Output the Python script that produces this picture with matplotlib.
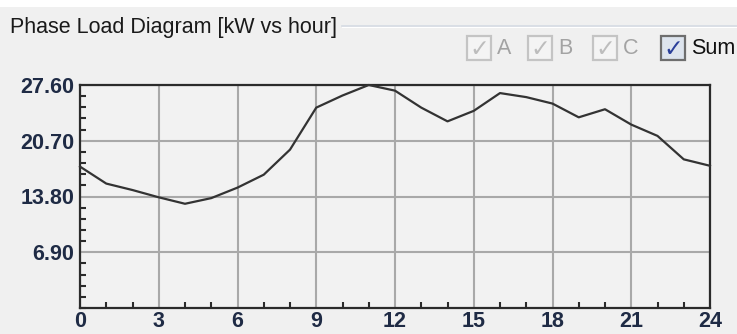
import matplotlib
matplotlib.use("Agg")
import matplotlib.pyplot as plt
from matplotlib.patches import Rectangle
from matplotlib.lines import Line2D
from matplotlib.ticker import MultipleLocator, FixedLocator

hours = list(range(25))
load_kw = [17.5, 15.4, 14.6, 13.7, 12.9, 13.6, 14.9, 16.5, 19.6, 24.8, 26.3, 27.6,
           26.9, 24.8, 23.1, 24.4, 26.6, 26.1, 25.3, 23.6, 24.6, 22.7, 21.3, 18.4, 17.6]
y_ticks = [6.90, 13.80, 20.70, 27.60]
y_tick_labels = ["6.90", "13.80", "20.70", "27.60"]
x_ticks = [0, 3, 6, 9, 12, 15, 18, 21, 24]
title = "Phase Load Diagram [kW vs hour]"
checkbox_labels = ["A", "B", "C", "Sum"]
checkbox_enabled = [False, False, False, True]

W, H = 737, 334
BG = "#f0f0f0"
FONT = ["Liberation Sans", "DejaVu Sans"]

fig = plt.figure(figsize=(W / 100, H / 100), dpi=100)
fig.patch.set_facecolor(BG)

def fx(x):
    return x / W

def fy(y):
    return 1 - y / H

# white strip at top
fig.add_artist(Rectangle((0, fy(7)), 1, 7 / H, transform=fig.transFigure,
                         facecolor="white", edgecolor="none", zorder=0))
# group box line
fig.add_artist(Line2D([fx(342), 1], [fy(26), fy(26)], transform=fig.transFigure,
                      color="#d5dbe3", lw=1.2))
fig.add_artist(Line2D([fx(342), 1], [fy(27.2), fy(27.2)], transform=fig.transFigure,
                      color="#ffffff", lw=0.8))
fig.text(fx(10), fy(27), title, family=FONT, fontsize=15.5, color="#1a1a1a",
         ha="left", va="center")

# checkboxes
box_x = [467, 528, 593, 661]
for bx, lab, en in zip(box_x, checkbox_labels, checkbox_enabled):
    size = 24
    top = 36
    fig.add_artist(Rectangle((fx(bx), fy(top + size)), size / W, size / H,
                             transform=fig.transFigure,
                             facecolor="#dde4ee" if en else "#f4f4f4",
                             edgecolor="#6e6e6e" if en else "#c4c4c4", lw=1.6))
    fig.text(fx(bx + size / 2), fy(top + size / 2 + 1), "\u2713", family="DejaVu Sans",
             fontsize=17, fontweight="bold", color="#2a3f9a" if en else "#bdbdbd",
             ha="center", va="center")
    fig.text(fx(bx + size + 6), fy(top + size / 2 + 1), lab, family=FONT, fontsize=15.5,
             color="#111111" if en else "#a3a3a3", ha="left", va="center")

# plot area
left, right, top_px, bottom_px = 80, 710, 85, 308
ax = fig.add_axes([fx(left), fy(bottom_px), (right - left) / W, (bottom_px - top_px) / H])
ax.set_facecolor("#f2f2f2")
ax.plot(hours, load_kw, color="#333333", lw=1.6, zorder=3, clip_on=False)

ax.set_xlim(0, 24)
ax.set_ylim(0, 27.6)
ax.xaxis.set_major_locator(FixedLocator(x_ticks))
ax.xaxis.set_minor_locator(MultipleLocator(1))
ax.yaxis.set_major_locator(FixedLocator(y_ticks))
ax.yaxis.set_minor_locator(MultipleLocator(1.38))
ax.set_xticklabels([str(t) for t in x_ticks])
ax.set_yticklabels(y_tick_labels)

ax.grid(True, which="major", color="#a9a9a9", lw=1.5, zorder=1)
for s in ax.spines.values():
    s.set_color("#2b2b2b")
    s.set_linewidth(1.6)

ax.tick_params(which="both", direction="in", colors="#2b2b2b", width=1.5)
ax.tick_params(which="major", length=0, labelsize=15.5, labelcolor="#1f2b45", pad=4)
ax.tick_params(which="minor", length=4)
ax.tick_params(axis="x", which="major", pad=2)
for lbl in ax.get_xticklabels() + ax.get_yticklabels():
    lbl.set_family(FONT)
    lbl.set_fontweight("bold")

fig.savefig("out.png", dpi=100, facecolor=fig.get_facecolor())
